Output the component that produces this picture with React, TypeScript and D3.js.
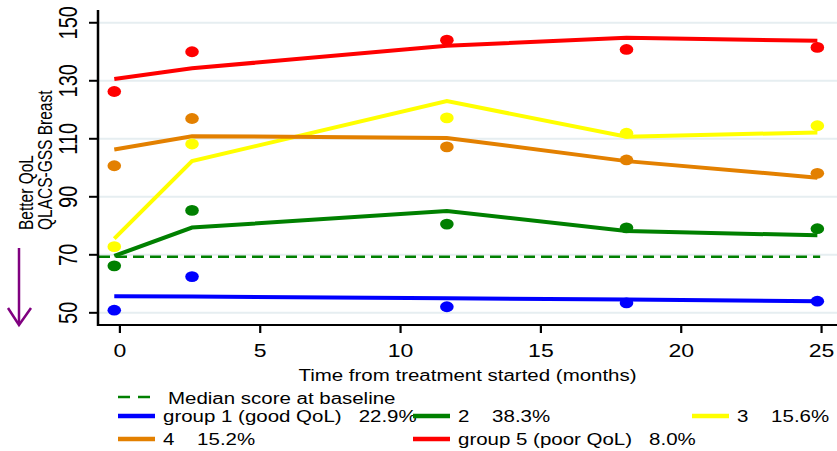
import React from 'react';
import * as d3 from 'd3';

const months = [-0.2, 2.57, 11.65, 18.05, 24.85];
const xTicks = [0, 5, 10, 15, 20, 25];
const yTicks = [50, 70, 90, 110, 130, 150];

const fittedG1 = [55.7, 55.6, 55.0, 54.6, 54.0];
const observedG1 = [50.9, 62.5, 52.1, 53.4, 54.0];
const fittedG2 = [69.6, 79.4, 85.1, 78.2, 76.7];
const observedG2 = [66.2, 85.3, 80.6, 79.3, 79.0];
const fittedG3 = [75.6, 102.3, 123.0, 110.7, 112.2];
const observedG3 = [72.8, 108.2, 117.2, 111.9, 114.5];
const fittedG4 = [106.3, 110.9, 110.3, 102.3, 96.6];
const observedG4 = [100.7, 117.0, 107.2, 102.7, 98.1];
const fittedG5 = [130.6, 134.3, 142.1, 144.8, 143.8];
const observedG5 = [126.3, 140.0, 144.0, 140.8, 141.5];

const medianBaseline = 69.3;

const groupLabels = [
  'group 1 (good QoL)   22.9%',
  '2    38.3%',
  '3    15.6%',
  '4    15.2%',
  'group 5 (poor QoL)   8.0%',
];
const groupColors = ['#0000ff', '#008000', '#ffff00', '#e38000', '#ff0000'];
const medianLabel = 'Median score at baseline';
const xTitle = 'Time from treatment started (months)';
const yTitleLines = ['Better QoL', 'QLACS-GSS Breast'];

const W = 837;
const H = 451;
const SX = 1.28;
const FONT = "'Liberation Sans', Arial, Helvetica, sans-serif";

export default function App() {
  const left = 98;
  const right = 837;
  const top = 10;
  const bottom = 325;

  const x = d3.scaleLinear().domain([-0.78, 25.55]).range([left, right]);
  const y = d3.scaleLinear().domain([45.8, 154.4]).range([bottom, top]);

  const series = [
    { fitted: fittedG1, observed: observedG1 },
    { fitted: fittedG2, observed: observedG2 },
    { fitted: fittedG3, observed: observedG3 },
    { fitted: fittedG4, observed: observedG4 },
    { fitted: fittedG5, observed: observedG5 },
  ].map((s, i) => ({ ...s, color: groupColors[i], label: groupLabels[i] }));

  const line = d3
    .line<number>()
    .x((_, i) => x(months[i]))
    .y((d) => y(d));

  const legendCols = [118, 413, 692];
  const legendRows = [416, 439];
  const keyLen = 37;

  return (
    <svg
      width={W}
      height={H}
      style={{ position: 'fixed', left: 0, top: 0, background: '#fff' }}
      fontFamily={FONT}
    >
      <rect x={0} y={0} width={W} height={H} fill="#fff" />
      {yTicks.map((t) => (
        <line key={'g' + t} x1={left} x2={right} y1={y(t)} y2={y(t)} stroke="#e6eef1" strokeWidth={2} />
      ))}
      <line
        x1={left + 1}
        x2={x(24.95)}
        y1={y(medianBaseline)}
        y2={y(medianBaseline)}
        stroke="#008000"
        strokeWidth={2.5}
        strokeDasharray="11,6"
      />
      {series.map((s, i) => (
        <path key={'l' + i} d={line(s.fitted) || ''} fill="none" stroke={s.color} strokeWidth={4} />
      ))}
      {series.map((s, i) =>
        s.observed.map((v, j) => (
          <ellipse key={'p' + i + '-' + j} cx={x(months[j])} cy={y(v)} rx={6.8} ry={5.4} fill={s.color} />
        ))
      )}
      <line x1={left} x2={left} y1={top} y2={bottom + 1} stroke="#000" strokeWidth={2.5} />
      <line x1={left - 1} x2={right} y1={bottom} y2={bottom} stroke="#000" strokeWidth={2} />
      {yTicks.map((t) => (
        <g key={'yt' + t}>
          <line x1={left - 9} x2={left} y1={y(t)} y2={y(t)} stroke="#000" strokeWidth={2} />
          <text
            transform={`translate(77,${y(t)}) scale(${SX},1) rotate(-90)`}
            textAnchor="middle"
            fontSize={20}
            fill="#000"
          >
            {t}
          </text>
        </g>
      ))}
      {xTicks.map((t) => (
        <g key={'xt' + t}>
          <line x1={x(t)} x2={x(t)} y1={bottom} y2={bottom + 8} stroke="#000" strokeWidth={2.2} />
          <text
            transform={`translate(${x(t)},357) scale(${SX},1)`}
            textAnchor="middle"
            fontSize={18}
            fill="#000"
          >
            {t}
          </text>
        </g>
      ))}
      <text
        transform={`translate(${(left + right) / 2},381) scale(${SX},1)`}
        textAnchor="middle"
        fontSize={16}
        fill="#000"
      >
        {xTitle}
      </text>
      {yTitleLines.map((t, i) => (
        <text
          key={'yl' + i}
          transform={`translate(${33 + i * 19},230) scale(${SX},1) rotate(-90)`}
          textAnchor="start"
          fontSize={15.5}
          fill="#000"
        >
          {t}
        </text>
      ))}
      <line x1={19} x2={19} y1={248} y2={324} stroke="#800080" strokeWidth={2.5} />
      <polyline points="8,308 19,325 31,308" fill="none" stroke="#800080" strokeWidth={2.5} />
      <line
        x1={legendCols[0]}
        x2={legendCols[0] + 33}
        y1={397}
        y2={397}
        stroke="#008000"
        strokeWidth={2.5}
        strokeDasharray="12,8"
      />
      <text transform={`translate(168,404) scale(${SX},1)`} fontSize={16} fill="#000">
        {medianLabel}
      </text>
      {series.map((s, i) => {
        const row = i < 3 ? 0 : 1;
        const col = i < 3 ? i : i - 3;
        const kx = legendCols[col];
        const ky = legendRows[row];
        return (
          <g key={'lg' + i}>
            <line x1={kx} x2={kx + keyLen} y1={ky} y2={ky} stroke={s.color} strokeWidth={4.5} />
            <text
              transform={`translate(${kx + keyLen + 8},${ky + 6}) scale(${SX},1)`}
              fontSize={16}
              fill="#000"
              style={{ whiteSpace: 'pre' }}
            >
              {s.label}
            </text>
          </g>
        );
      })}
    </svg>
  );
}
